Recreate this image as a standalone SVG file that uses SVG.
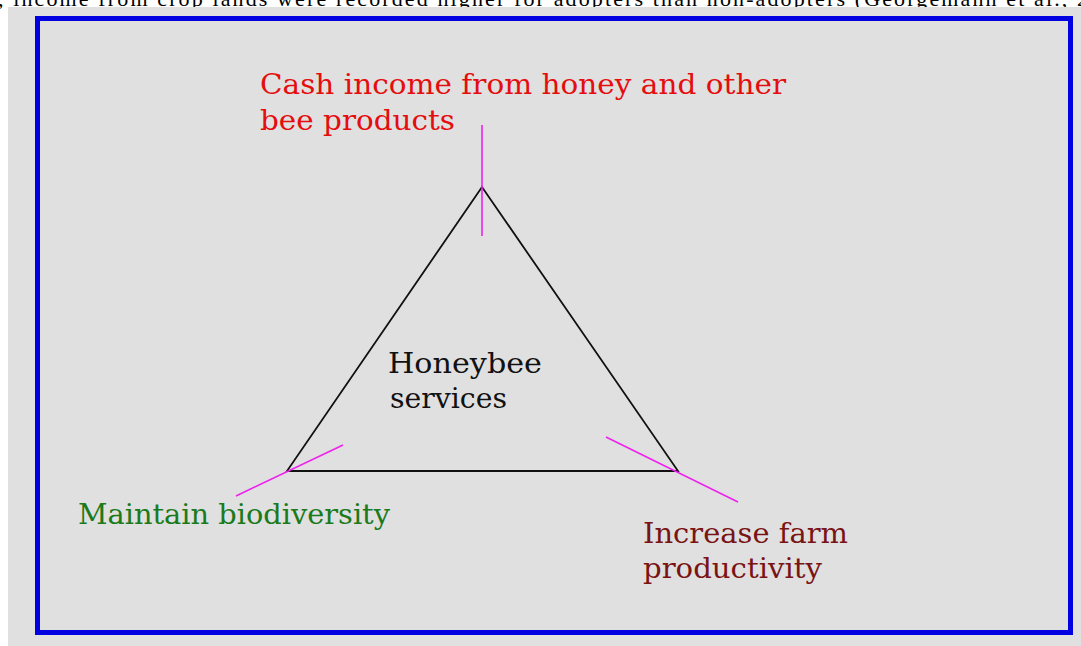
<svg xmlns="http://www.w3.org/2000/svg" width="1081" height="646" viewBox="0 0 1081 646">
  <style>
    .lbl { font-family: "DejaVu Serif", "Liberation Serif", serif; font-size: 27px; }
    .red { fill: #e50d0d; }
    .green { fill: #1b7a1b; }
    .maroon { fill: #7a1414; }
    .black { fill: #111111; }
    .tick { stroke: #ee22ee; stroke-width: 1.6; fill: none; }
    .edge { stroke: #111111; stroke-width: 1.8; fill: none; }
  </style>
  <rect x="0" y="0" width="1081" height="646" fill="#ffffff"/>
  <text x="-2" y="6" font-family="Liberation Serif, serif" font-size="22" fill="#000" textLength="1090" lengthAdjust="spacing">, income from crop lands were recorded higher for adopters than non-adopters (Georgemann et al., 2</text>
  <rect x="8" y="7" width="1073" height="639" fill="#e0e0e0"/>
  <rect x="37.5" y="18.5" width="1033" height="614" fill="none" stroke="#0000e0" stroke-width="5"/>

  <g id="connectors">
    <polygon class="edge" points="482,187 287,471 678,471"/>
    <line class="tick" x1="482" y1="125" x2="482" y2="236"/>
    <line class="tick" x1="236" y1="496" x2="343" y2="445"/>
    <line class="tick" x1="606" y1="437" x2="738" y2="502"/>
  </g>

  <g id="node-center">
    <text class="lbl black" x="388" y="373" textLength="154" lengthAdjust="spacingAndGlyphs">Honeybee</text>
    <text class="lbl black" x="390" y="408" textLength="117" lengthAdjust="spacingAndGlyphs">services</text>
  </g>

  <g id="node-cash">
    <text class="lbl red" x="260" y="94" textLength="526" lengthAdjust="spacingAndGlyphs">Cash income from honey and other</text>
    <text class="lbl red" x="260" y="130" textLength="195" lengthAdjust="spacingAndGlyphs">bee products</text>
  </g>

  <g id="node-biodiversity">
    <text class="lbl green" x="78" y="524" textLength="312" lengthAdjust="spacingAndGlyphs">Maintain biodiversity</text>
  </g>

  <g id="node-productivity">
    <text class="lbl maroon" x="643" y="543" textLength="205" lengthAdjust="spacingAndGlyphs">Increase farm</text>
    <text class="lbl maroon" x="643" y="578" textLength="179" lengthAdjust="spacingAndGlyphs">productivity</text>
  </g>
</svg>
